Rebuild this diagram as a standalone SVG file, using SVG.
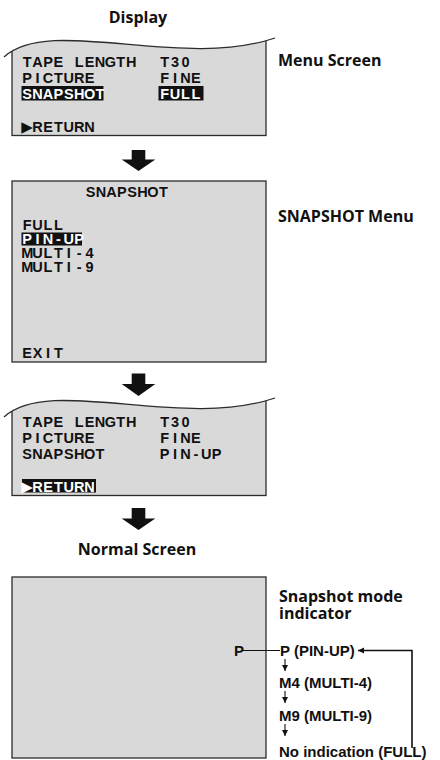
<svg xmlns="http://www.w3.org/2000/svg" width="440" height="760" viewBox="0 0 440 760">
<style>
.scr{fill:#d9d9d9;stroke:#2b2b2b;stroke-width:1.3}
.wave{fill:none;stroke:#2b2b2b;stroke-width:1.3}
.lcd{font-family:"Liberation Sans",Arial,sans-serif;font-weight:bold;font-size:14.5px;fill:#111;text-anchor:middle}
.tri{font-family:"DejaVu Sans",sans-serif;font-size:15px}
.inv{fill:#fff}
.hl{fill:#111}
.label{font-family:"Open Sans","Liberation Sans",sans-serif;font-weight:700;font-size:16px;fill:#111}
.mid{text-anchor:middle}
.ind{font-family:"Liberation Sans",Arial,sans-serif;font-weight:bold;font-size:15px;fill:#111}
.blk{fill:#111}
.thin{fill:none;stroke:#111;stroke-width:1.1}
.ret{fill:none;stroke:#111;stroke-width:1.6}
</style>
<defs>
<clipPath id="waveclip" clipPathUnits="userSpaceOnUse">
<path d="M4,57 C50,15 180,70 275,38 L275,140 L4,140 Z"/>
</clipPath>
<marker id="ah" markerUnits="userSpaceOnUse" markerWidth="7" markerHeight="7" refX="6" refY="3" orient="auto">
<path d="M0,0 L6,3 L0,6 Z" fill="#111"/>
</marker>
</defs>

<g id="title-display">
<text class="label mid" x="138" y="23">Display</text>
</g>

<g id="menu-screen-1">
<rect class="scr" x="12" y="30" width="254" height="105.5" clip-path="url(#waveclip)"/>
<path class="wave" d="M4,57 C50,15 180,70 275,38"/>
<rect class="hl" x="21.5" y="86" width="82" height="14.5"/>
<rect class="hl" x="158.5" y="86" width="45" height="14.5"/>
<text class="lcd" x="27.2 37.6 48 58.4 68.8 79.2 89.6 100 110.4 120.8 131.2" y="67">TAPE LENGTH</text>
<text class="lcd" x="164.7 175.1 185.5" y="67">T30</text>
<text class="lcd" x="27.2 37.6 48 58.4 68.8 79.2 89.6" y="83">PICTURE</text>
<text class="lcd" x="164.7 175.1 185.5 195.9" y="83">FINE</text>
<text class="lcd inv" x="27.2 37.6 48 58.4 68.8 79.2 89.6 100" y="99">SNAPSHOT</text>
<text class="lcd inv" x="164.7 175.1 185.5 195.9" y="99">FULL</text>
<text class="lcd" y="131.5"><tspan class="tri" x="27">▶</tspan><tspan x="37.6 48 58.4 68.8 79.2 89.6">RETURN</tspan></text>
</g>
<g id="label-menu-screen">
<text class="label" x="278" y="66">Menu Screen</text>
</g>

<g id="snapshot-menu">
<rect class="scr" x="12" y="181" width="254" height="181"/>
<text class="lcd" x="90.6 101 111.4 121.8 132.2 142.6 153 163.4" y="197">SNAPSHOT</text>
<text class="lcd" x="27.2 37.6 48 58.4" y="229.5">FULL</text>
<rect class="hl" x="21.5" y="232.5" width="60.5" height="13"/>
<text class="lcd inv" x="27.2 37.6 48 58.4 68.8 79.2" y="244">PIN-UP</text>
<text class="lcd" x="27.2 37.6 48 58.4 68.8 79.2 89.6" y="257.5">MULTI-4</text>
<text class="lcd" x="27.2 37.6 48 58.4 68.8 79.2 89.6" y="271.5">MULTI-9</text>
<text class="lcd" x="27.2 37.6 48 58.4" y="357.5">EXIT</text>
</g>
<g id="label-snapshot-menu">
<text class="label" x="278" y="222">SNAPSHOT Menu</text>
</g>

<g id="menu-screen-2" transform="translate(0,360)">
<rect class="scr" x="12" y="30" width="254" height="105.5" clip-path="url(#waveclip)"/>
<path class="wave" d="M4,57 C50,15 180,70 275,38"/>
<rect class="hl" x="22" y="119" width="74" height="13.5"/>
<text class="lcd" x="27.2 37.6 48 58.4 68.8 79.2 89.6 100 110.4 120.8 131.2" y="67">TAPE LENGTH</text>
<text class="lcd" x="164.7 175.1 185.5" y="67">T30</text>
<text class="lcd" x="27.2 37.6 48 58.4 68.8 79.2 89.6" y="83">PICTURE</text>
<text class="lcd" x="164.7 175.1 185.5 195.9" y="83">FINE</text>
<text class="lcd" x="27.2 37.6 48 58.4 68.8 79.2 89.6 100" y="99">SNAPSHOT</text>
<text class="lcd" x="164.7 175.1 185.5 195.9 206.3 216.7" y="99">PIN-UP</text>
<text class="lcd inv" y="131.5"><tspan class="tri" x="27">▶</tspan><tspan x="37.6 48 58.4 68.8 79.2 89.6">RETURN</tspan></text>
</g>

<g id="title-normal-screen">
<text class="label mid" x="137" y="555">Normal Screen</text>
</g>

<g id="normal-screen">
<rect class="scr" x="12" y="577" width="254" height="181"/>
<text class="ind" x="234" y="655.5">P</text>
</g>

<g id="label-indicator">
<text class="label" x="279" y="601.5">Snapshot mode</text>
<text class="label" x="279" y="619">indicator</text>
</g>

<g id="mode-pinup"><text class="ind" x="280" y="655.5">P (PIN-UP)</text></g>
<g id="mode-multi4"><text class="ind" x="279" y="687.5">M4 (MULTI-4)</text></g>
<g id="mode-multi9"><text class="ind" x="279" y="720.5">M9 (MULTI-9)</text></g>
<g id="mode-full"><text class="ind" x="279" y="756.5">No indication (FULL)</text></g>

<g id="connectors">
<polygon class="blk" points="131.7,150 145.3,150 145.3,159.5 155.3,159.5 138.5,171 121.7,159.5 131.7,159.5"/>
<polygon class="blk" points="131.7,373.5 145.3,373.5 145.3,384 155.3,384 138.5,396 121.7,384 131.7,384"/>
<polygon class="blk" points="131.7,508 145.3,508 145.3,518.5 155.3,518.5 138.5,530 121.7,518.5 131.7,518.5"/>
<line class="thin" x1="243" y1="650.5" x2="280" y2="650.5"/>
<line class="thin" x1="285" y1="659" x2="285" y2="671" marker-end="url(#ah)"/>
<line class="thin" x1="285" y1="691" x2="285" y2="703" marker-end="url(#ah)"/>
<line class="thin" x1="285" y1="724" x2="285" y2="736" marker-end="url(#ah)"/>
<path class="ret" d="M412,748 L412,650.5 L358,650.5" marker-end="url(#ah)"/>
</g>
</svg>
